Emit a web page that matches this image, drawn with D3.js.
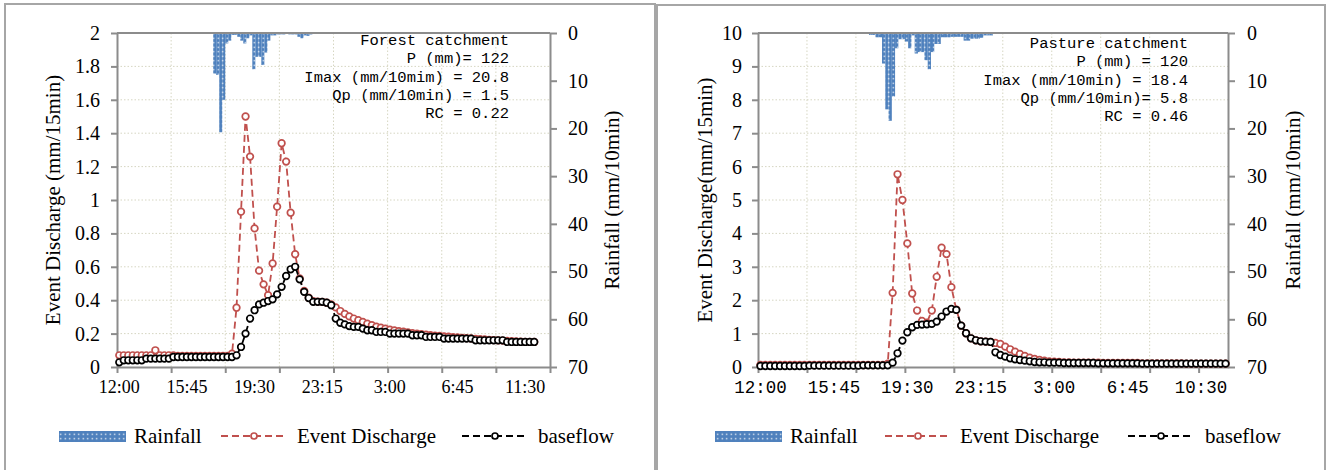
<!doctype html>
<html>
<head>
<meta charset="UTF-8">
<title>Event discharge and baseflow</title>
<script src="https://d3js.org/d3.v7.min.js"></script>
<style>
  body { margin: 0; background: #fff; }
  svg text { font-family: "Liberation Serif", "Times New Roman", serif; fill: #000; }
</style>
</head>
<body>
<div id="chart"></div>
<script>
// ---------------- data ----------------
// discharge is sampled every 15 min from 12:00, rainfall every 10 min

// forest catchment
const forestXLabels = ["12:00", "15:45", "19:30", "23:15", "3:00", "6:45", "11:30"];
const forestEvent = [
  0.07, 0.07, 0.07, 0.07, 0.07, 0.07, 0.07, 0.07, 0.10, 0.07,
  0.07, 0.07, 0.07, 0.066, 0.066, 0.066, 0.066, 0.066, 0.066, 0.066,
  0.066, 0.066, 0.066, 0.066, 0.066, 0.08, 0.355, 0.93, 1.50, 1.26,
  0.83, 0.577, 0.495, 0.43, 0.62, 0.96, 1.34, 1.23, 0.924, 0.675,
  0.53, 0.455, 0.415, 0.395, 0.392, 0.39, 0.385, 0.375, 0.357, 0.335,
  0.318, 0.303, 0.29, 0.28, 0.27, 0.26, 0.25, 0.242, 0.236, 0.23,
  0.224, 0.219, 0.215, 0.211, 0.207, 0.203, 0.2, 0.197, 0.194, 0.191,
  0.188, 0.186, 0.183, 0.181, 0.179, 0.177, 0.175, 0.173, 0.171, 0.169,
  0.167, 0.165, 0.163, 0.161, 0.16, 0.158, 0.156, 0.155, 0.153, 0.152,
  0.151, 0.15, 0.15
];
const forestBase = [
  0.028, 0.04, 0.04, 0.04, 0.04, 0.04, 0.05, 0.05, 0.05, 0.05,
  0.05, 0.05, 0.06, 0.06, 0.06, 0.06, 0.06, 0.06, 0.06, 0.06,
  0.06, 0.06, 0.06, 0.06, 0.06, 0.06, 0.07, 0.12, 0.20, 0.29,
  0.34, 0.375, 0.385, 0.395, 0.405, 0.435, 0.48, 0.545, 0.585, 0.60,
  0.525, 0.45, 0.413, 0.39, 0.39, 0.39, 0.385, 0.37, 0.29, 0.265,
  0.255, 0.245, 0.24, 0.24, 0.23, 0.22, 0.22, 0.21, 0.21, 0.21,
  0.2, 0.2, 0.2, 0.2, 0.2, 0.19, 0.19, 0.19, 0.18, 0.18,
  0.18, 0.18, 0.17, 0.17, 0.17, 0.17, 0.17, 0.17, 0.17, 0.16,
  0.16, 0.16, 0.16, 0.16, 0.16, 0.16, 0.15, 0.15, 0.15, 0.15,
  0.15, 0.15, 0.15
];
const forestRainStart = "17:20";
const forestRain = [
  8.5, 8.8, 20.8, 14.0, 2.2, 1.6, 0.4, 0.4, 0.8, 1.6,
  2.2, 1.1, 0.5, 7.6, 5.0, 5.0, 6.7, 4.1, 1.6, 0.5,
  0.5, 0.3, 0.3, 0.3, 0.2, 0.3, 0.3, 0.3, 0.8, 1.1,
  0.5, 0.6, 0.3, 0.2, 0.2, 0.2, 0.2, 0.2, 0.2, 0.2,
  0.1, 0.1, 0.1, 0.1, 0.1, 0.1, 0.1, 0.1, 0.1, 0.1
];
const forestNotes = ["Forest catchment", "P (mm)= 122", "Imax (mm/10mim) = 20.8", "Qp (mm/10min) = 1.5", "RC = 0.22"];

// pasture catchment
const pastureXLabels = ["12:00", "15:45", "19:30", "23:15", "3:00", "6:45", "10:30"];
const pastureEvent = [
  0.06, 0.06, 0.06, 0.06, 0.06, 0.06, 0.06, 0.06, 0.06, 0.06,
  0.06, 0.06, 0.06, 0.06, 0.06, 0.06, 0.06, 0.06, 0.06, 0.06,
  0.06, 0.06, 0.06, 0.06, 0.06, 0.06, 0.1, 2.22, 5.77, 5.0,
  3.7, 2.2, 1.69, 1.38, 1.33, 1.69, 2.7, 3.57, 3.38, 2.39,
  1.72, 1.24, 1.01, 0.86, 0.8, 0.77, 0.76, 0.75, 0.72, 0.69,
  0.61, 0.53, 0.46, 0.39, 0.33, 0.28, 0.24, 0.21, 0.19, 0.17,
  0.16, 0.15, 0.14, 0.14, 0.13, 0.13, 0.13, 0.13, 0.13, 0.13,
  0.12, 0.12, 0.12, 0.12, 0.12, 0.12, 0.12, 0.12, 0.11, 0.11,
  0.11, 0.11, 0.11, 0.11, 0.11, 0.11, 0.11, 0.1, 0.1, 0.1,
  0.1, 0.1, 0.1, 0.1, 0.1, 0.1
];
const pastureBase = [
  0.03, 0.03, 0.03, 0.03, 0.03, 0.03, 0.03, 0.03, 0.03, 0.03,
  0.04, 0.04, 0.04, 0.04, 0.04, 0.04, 0.04, 0.04, 0.04, 0.04,
  0.04, 0.05, 0.05, 0.05, 0.05, 0.05, 0.05, 0.13, 0.41, 0.79,
  1.04, 1.19, 1.26, 1.27, 1.28, 1.29, 1.36, 1.51, 1.66, 1.74,
  1.71, 1.24, 1.01, 0.86, 0.8, 0.77, 0.76, 0.75, 0.44, 0.36,
  0.31, 0.26, 0.23, 0.21, 0.19, 0.17, 0.15, 0.14, 0.14, 0.13,
  0.13, 0.13, 0.12, 0.12, 0.12, 0.12, 0.12, 0.12, 0.12, 0.11,
  0.11, 0.11, 0.11, 0.11, 0.11, 0.11, 0.11, 0.11, 0.1, 0.1,
  0.1, 0.1, 0.1, 0.1, 0.1, 0.1, 0.1, 0.1, 0.1, 0.1,
  0.1, 0.1, 0.1, 0.1, 0.1, 0.1
];
const pastureRainStart = "17:40";
const pastureRain = [
  0.4, 0.4, 0.9, 0.9, 6.4, 16.0, 18.4, 13.3, 3.2, 1.3,
  1.3, 1.8, 3.2, 0.5, 4.3, 4.0, 4.0, 5.7, 7.6, 4.0,
  2.3, 2.3, 0.9, 0.9, 0.9, 0.8, 0.8, 0.8, 0.8, 1.6,
  1.6, 1.2, 1.2, 1.2, 1.0, 0.5, 0.5, 0.5, 0.2, 0.2,
  0.2, 0.2, 0.2, 0.2, 0.2
];
const pastureNotes = ["Pasture catchment", "P (mm) = 120", "Imax (mm/10min) = 18.4", "Qp (mm/10min)= 5.8", "RC = 0.46"];

const legendNames = ["Rainfall", "Event Discharge", "baseflow"];

// ---------------- drawing ----------------
const RED = "#c0504d", BLUE = "#4f81bd", AXIS = "#8c8c8c", GRID = "#d6d6c2";

const svg = d3.select("#chart").append("svg")
  .attr("width", 1335).attr("height", 470);

// Excel-like dotted fill for the rainfall bars
const pat = svg.append("defs").append("pattern")
  .attr("id", "dots").attr("patternUnits", "userSpaceOnUse")
  .attr("width", 4.5).attr("height", 4.5);
pat.append("rect").attr("width", 4.5).attr("height", 4.5).attr("fill", BLUE);
pat.append("rect").attr("x", 1.6).attr("y", 1.6).attr("width", 1.3).attr("height", 1.3).attr("fill", "#fff");

// slot of 10-min rainfall counted from 12:00
function rainSlot(t) {
  const [h, m] = t.split(":").map(Number);
  return ((h * 60 + m) - 12 * 60) / 10;
}

function drawPanel(p) {
  const g = svg.append("g");

  g.append("rect")
    .attr("x", p.box[0]).attr("y", p.box[1])
    .attr("width", p.box[2]).attr("height", 500)
    .attr("fill", "none").attr("stroke", "#a6a6a6").attr("stroke-width", 2);

  const x = d3.scaleLinear().domain([0, p.nCats]).range([p.left, p.right]);
  const xr = d3.scaleLinear().domain([0, p.nCats * 1.5]).range([p.left, p.right]);
  const y = d3.scaleLinear().domain([0, p.yMax]).range([p.bottom, p.top]);
  const yr = d3.scaleLinear().domain([0, 70]).range([p.top, p.bottom]);

  const yTicks = d3.range(0, p.yMax + 1e-9, p.yStep);
  const xTicks = d3.range(0, p.nCats + 1e-9, p.tickEvery);

  // dotted grid
  g.append("g").selectAll("line").data(yTicks.slice(1, -1)).join("line")
    .attr("x1", p.left).attr("x2", p.right)
    .attr("y1", d => y(d)).attr("y2", d => y(d))
    .attr("stroke", GRID).attr("stroke-dasharray", "1.5,2");
  g.append("g").selectAll("line").data(xTicks.slice(1, -1)).join("line")
    .attr("x1", d => x(d)).attr("x2", d => x(d))
    .attr("y1", p.top).attr("y2", p.bottom)
    .attr("stroke", GRID).attr("stroke-dasharray", "1.5,2");

  // rainfall bars hanging from the top
  const r0 = rainSlot(p.rainStart);
  g.append("g").selectAll("rect").data(p.rain).join("rect")
    .attr("x", (d, i) => xr(r0 + i))
    .attr("width", xr(1) - xr(0))
    .attr("y", p.top)
    .attr("height", d => yr(d) - yr(0))
    .attr("fill", "url(#dots)");

  // plot frame (top edge)
  g.append("line").attr("x1", p.left).attr("x2", p.right)
    .attr("y1", p.top).attr("y2", p.top)
    .attr("stroke", AXIS).attr("stroke-width", 2);

  // axes
  const ay = g.append("g").attr("transform", `translate(${p.left},0)`)
    .call(d3.axisLeft(y).tickValues(yTicks).tickSize(6).tickSizeOuter(0)
      .tickPadding(p.padL).tickFormat(d => d3.format("~g")(+d.toFixed(1))));
  const ar = g.append("g").attr("transform", `translate(${p.right},0)`)
    .call(d3.axisRight(yr).tickValues(d3.range(0, 71, 10)).tickSize(7).tickSizeOuter(0).tickPadding(p.padR));
  const ax = g.append("g").attr("transform", `translate(0,${p.bottom})`)
    .call(d3.axisBottom(x).tickValues(xTicks).tickSize(6).tickSizeOuter(0).tickFormat(""));
  [ay, ar, ax].forEach(a => {
    a.select(".domain").attr("stroke", AXIS).attr("stroke-width", 2);
    a.selectAll(".tick line").attr("stroke", AXIS).attr("stroke-width", 2);
    a.selectAll("text").attr("font-family", "Liberation Serif").attr("font-size", 20).attr("fill", "#000");
  });

  // time labels (every 15 slots)
  g.append("g").selectAll("text").data(p.xLabels).join("text")
    .attr("x", (d, i) => x(i * 15 + 0.5))
    .attr("y", p.bottom + 26)
    .attr("text-anchor", "middle")
    .style("font-family", p.xFont)
    .attr("font-size", p.xSize)
    .text(d => d);

  // series
  const line = d3.line().x((d, i) => x(i + 0.5)).y(d => y(d));
  function series(vals, col) {
    g.append("path").datum(vals).attr("d", line)
      .attr("fill", "none").attr("stroke", col).attr("stroke-width", 1.8)
      .attr("stroke-dasharray", "7,4");
    g.append("g").selectAll("circle").data(vals).join("circle")
      .attr("cx", (d, i) => x(i + 0.5)).attr("cy", d => y(d)).attr("r", 3.3)
      .attr("fill", "#fff").attr("stroke", col).attr("stroke-width", 1.7);
  }
  series(p.event, RED);
  series(p.base, "#000");

  // annotation block
  g.append("g").selectAll("text").data(p.notes).join("text")
    .attr("x", p.noteX).attr("y", (d, i) => p.noteY + i * 18.3)
    .attr("text-anchor", "end")
    .style("font-family", "Liberation Mono")
    .attr("font-size", 15.5).attr("fill", "#3a3a3a")
    .text(d => d);

  // axis titles
  g.append("text")
    .attr("transform", `translate(${p.titleL},${(p.top + p.bottom) / 2}) rotate(-90)`)
    .attr("text-anchor", "middle").attr("font-size", 21)
    .text(p.yTitle);
  g.append("text")
    .attr("transform", `translate(${p.titleR},${(p.top + p.bottom) / 2}) rotate(-90)`)
    .attr("text-anchor", "middle").attr("font-size", 21)
    .text("Rainfall (mm/10min)");

  // legend
  const L = p.legend;
  const lg = g.append("g");
  lg.append("rect").attr("x", L[0]).attr("y", 431).attr("width", 67).attr("height", 11)
    .attr("fill", "url(#dots)");
  lg.append("text").attr("x", L[1]).attr("y", 443).attr("font-size", 21).text(legendNames[0]);
  [[L[2], RED, L[3]], [L[4], "#000", L[5]]].forEach(([lx, col, tx], k) => {
    lg.append("line").attr("x1", lx).attr("x2", lx + 65).attr("y1", 436).attr("y2", 436)
      .attr("stroke", col).attr("stroke-width", 2).attr("stroke-dasharray", "7,4");
    lg.append("circle").attr("cx", lx + 33).attr("cy", 436).attr("r", 3)
      .attr("fill", "#fff").attr("stroke", col).attr("stroke-width", 1.7);
    lg.append("text").attr("x", tx).attr("y", 443).attr("font-size", 21).text(legendNames[k + 1]);
  });
}

drawPanel({
  box: [5, 4, 650],
  left: 117, right: 550, top: 33, bottom: 367,
  nCats: 96, tickEvery: 12, yMax: 2, yStep: 0.2,
  padL: 11, padR: 11,
  xLabels: forestXLabels, xFont: "Liberation Serif", xSize: 18,
  event: forestEvent, base: forestBase,
  rain: forestRain, rainStart: forestRainStart,
  notes: forestNotes, noteX: 509, noteY: 45,
  yTitle: "Event Discharge (mm/15min)", titleL: 60, titleR: 619,
  legend: [59, 134, 221, 297, 462, 538]
});

drawPanel({
  box: [657, 5, 668],
  left: 758, right: 1228, top: 33, bottom: 367,
  nCats: 96, tickEvery: 10, yMax: 10, yStep: 1,
  padL: 10, padR: 12,
  xLabels: pastureXLabels, xFont: "Liberation Mono", xSize: 17.5,
  event: pastureEvent, base: pastureBase,
  rain: pastureRain, rainStart: pastureRainStart,
  notes: pastureNotes, noteX: 1188, noteY: 48,
  yTitle: "Event Discharge(mm/15min)", titleL: 712, titleR: 1300,
  legend: [715, 790, 885, 960, 1128, 1205]
});
</script>
</body>
</html>
